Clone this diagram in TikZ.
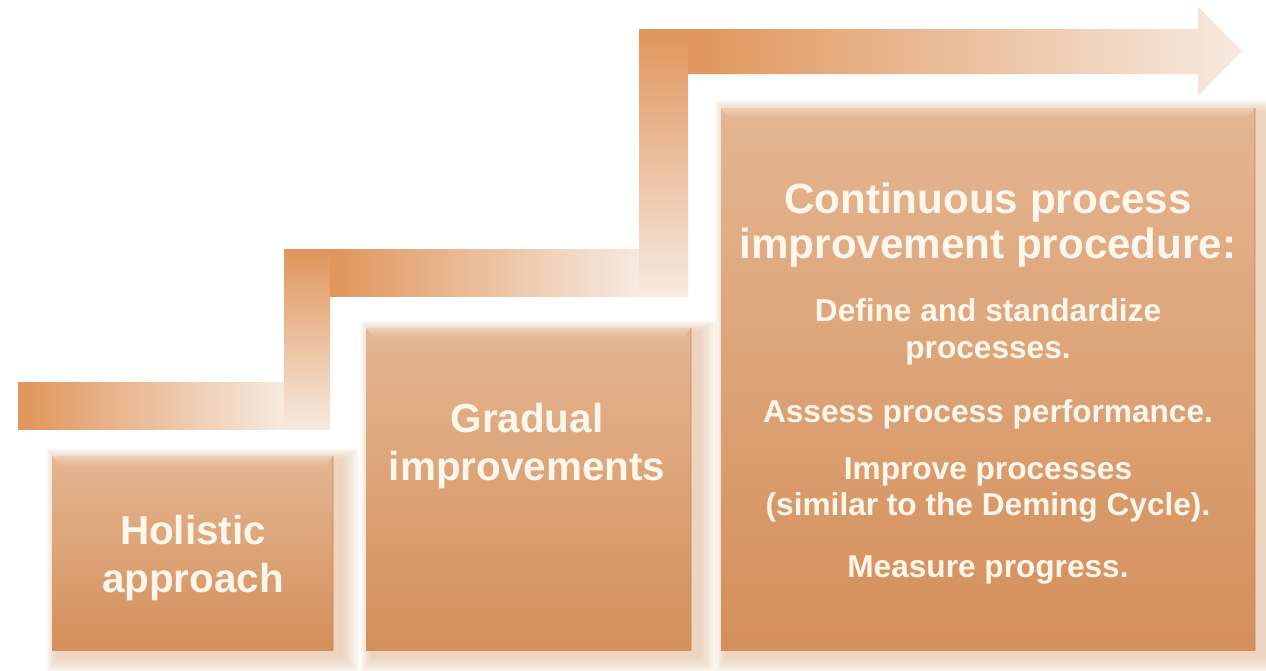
\documentclass[tikz,border=0pt]{standalone}
\usepackage{fontspec}
\setmainfont{Liberation Sans}
\usepackage{tikz}
\usetikzlibrary{calc,positioning}

\definecolor{stepdark}{HTML}{E0955B}
\definecolor{steplight}{HTML}{F7EAE0}
\definecolor{boxtop}{HTML}{E4B692}
\definecolor{boxbottom}{HTML}{D48F5A}
\definecolor{boxglow}{HTML}{DDA272}
\definecolor{boxedge}{HTML}{F1D6BF}
\definecolor{labeltext}{HTML}{FFF6EC}

\tikzset{
  stepbar/.style={left color=stepdark, right color=steplight},
  steprise/.style={top color=stepdark, bottom color=steplight},
  box/.style={top color=boxtop, bottom color=boxbottom},
  boxlabel/.style={text=labeltext, align=center, inner sep=0pt, font=\bfseries\fontsize{23}{27}\selectfont},
  itemlabel/.style={text=labeltext, align=center, inner sep=0pt, font=\bfseries\fontsize{18}{21}\selectfont}
}

\begin{document}
\begin{tikzpicture}[x=0.02cm,y=-0.02cm]
\fill[white] (0,0) rectangle (1266,670);
\useasboundingbox (0,0) rectangle (1266,670);

\shade[stepbar] (18,382) rectangle (284,429);
\shade[steprise] (284,249) rectangle (330,429);
\shade[stepbar] (330,249) rectangle (639,296);
\shade[steprise] (639,29) rectangle (688,296);
\shade[stepbar] (688,29) -- (1198,29) -- (1198,7) -- (1242,51) -- (1198,96) -- (1198,74) -- (688,74) -- cycle;

\foreach \xa/\ya/\xb/\yb in {52/456/333/650, 366/328/691/650, 721/108/1255/650}{
  \foreach \g in {1,...,12}
    \fill[boxglow, opacity=0.045] (\xa+6-\g,\ya+4-\g) rectangle (\xb+8+1.5*\g,\yb+6+1.5*\g);
  \shade[box] (\xa,\ya) rectangle (\xb,\yb);
  \shade[top color=boxedge, bottom color=boxtop, opacity=0.8] (\xa,\ya) -- (\xb,\ya) -- (\xb-8,\ya+10) -- (\xa+8,\ya+10) -- cycle;
  \draw[boxbottom!90!black, opacity=0.3, line width=1pt] (\xb,\ya) -- (\xb,\yb);
}

\node[boxlabel] (holistic) at (193,558) {Holistic\\approach};
\node[boxlabel] (gradual) at (527,446) {Gradual\\improvements};
\node[boxlabel, font=\bfseries\fontsize{24}{26}\selectfont] (procedure) at (988,225) {Continuous process\\improvement procedure:};
\node[itemlabel] (define) at (988,332) {Define and standardize\\processes.};
\node[itemlabel] (assess) at (988,414) {Assess process performance.};
\node[itemlabel] (improve) at (988,490) {Improve processes\\(similar to the Deming Cycle).};
\node[itemlabel] (measure) at (988,570) {Measure progress.};
\end{tikzpicture}
\end{document}
